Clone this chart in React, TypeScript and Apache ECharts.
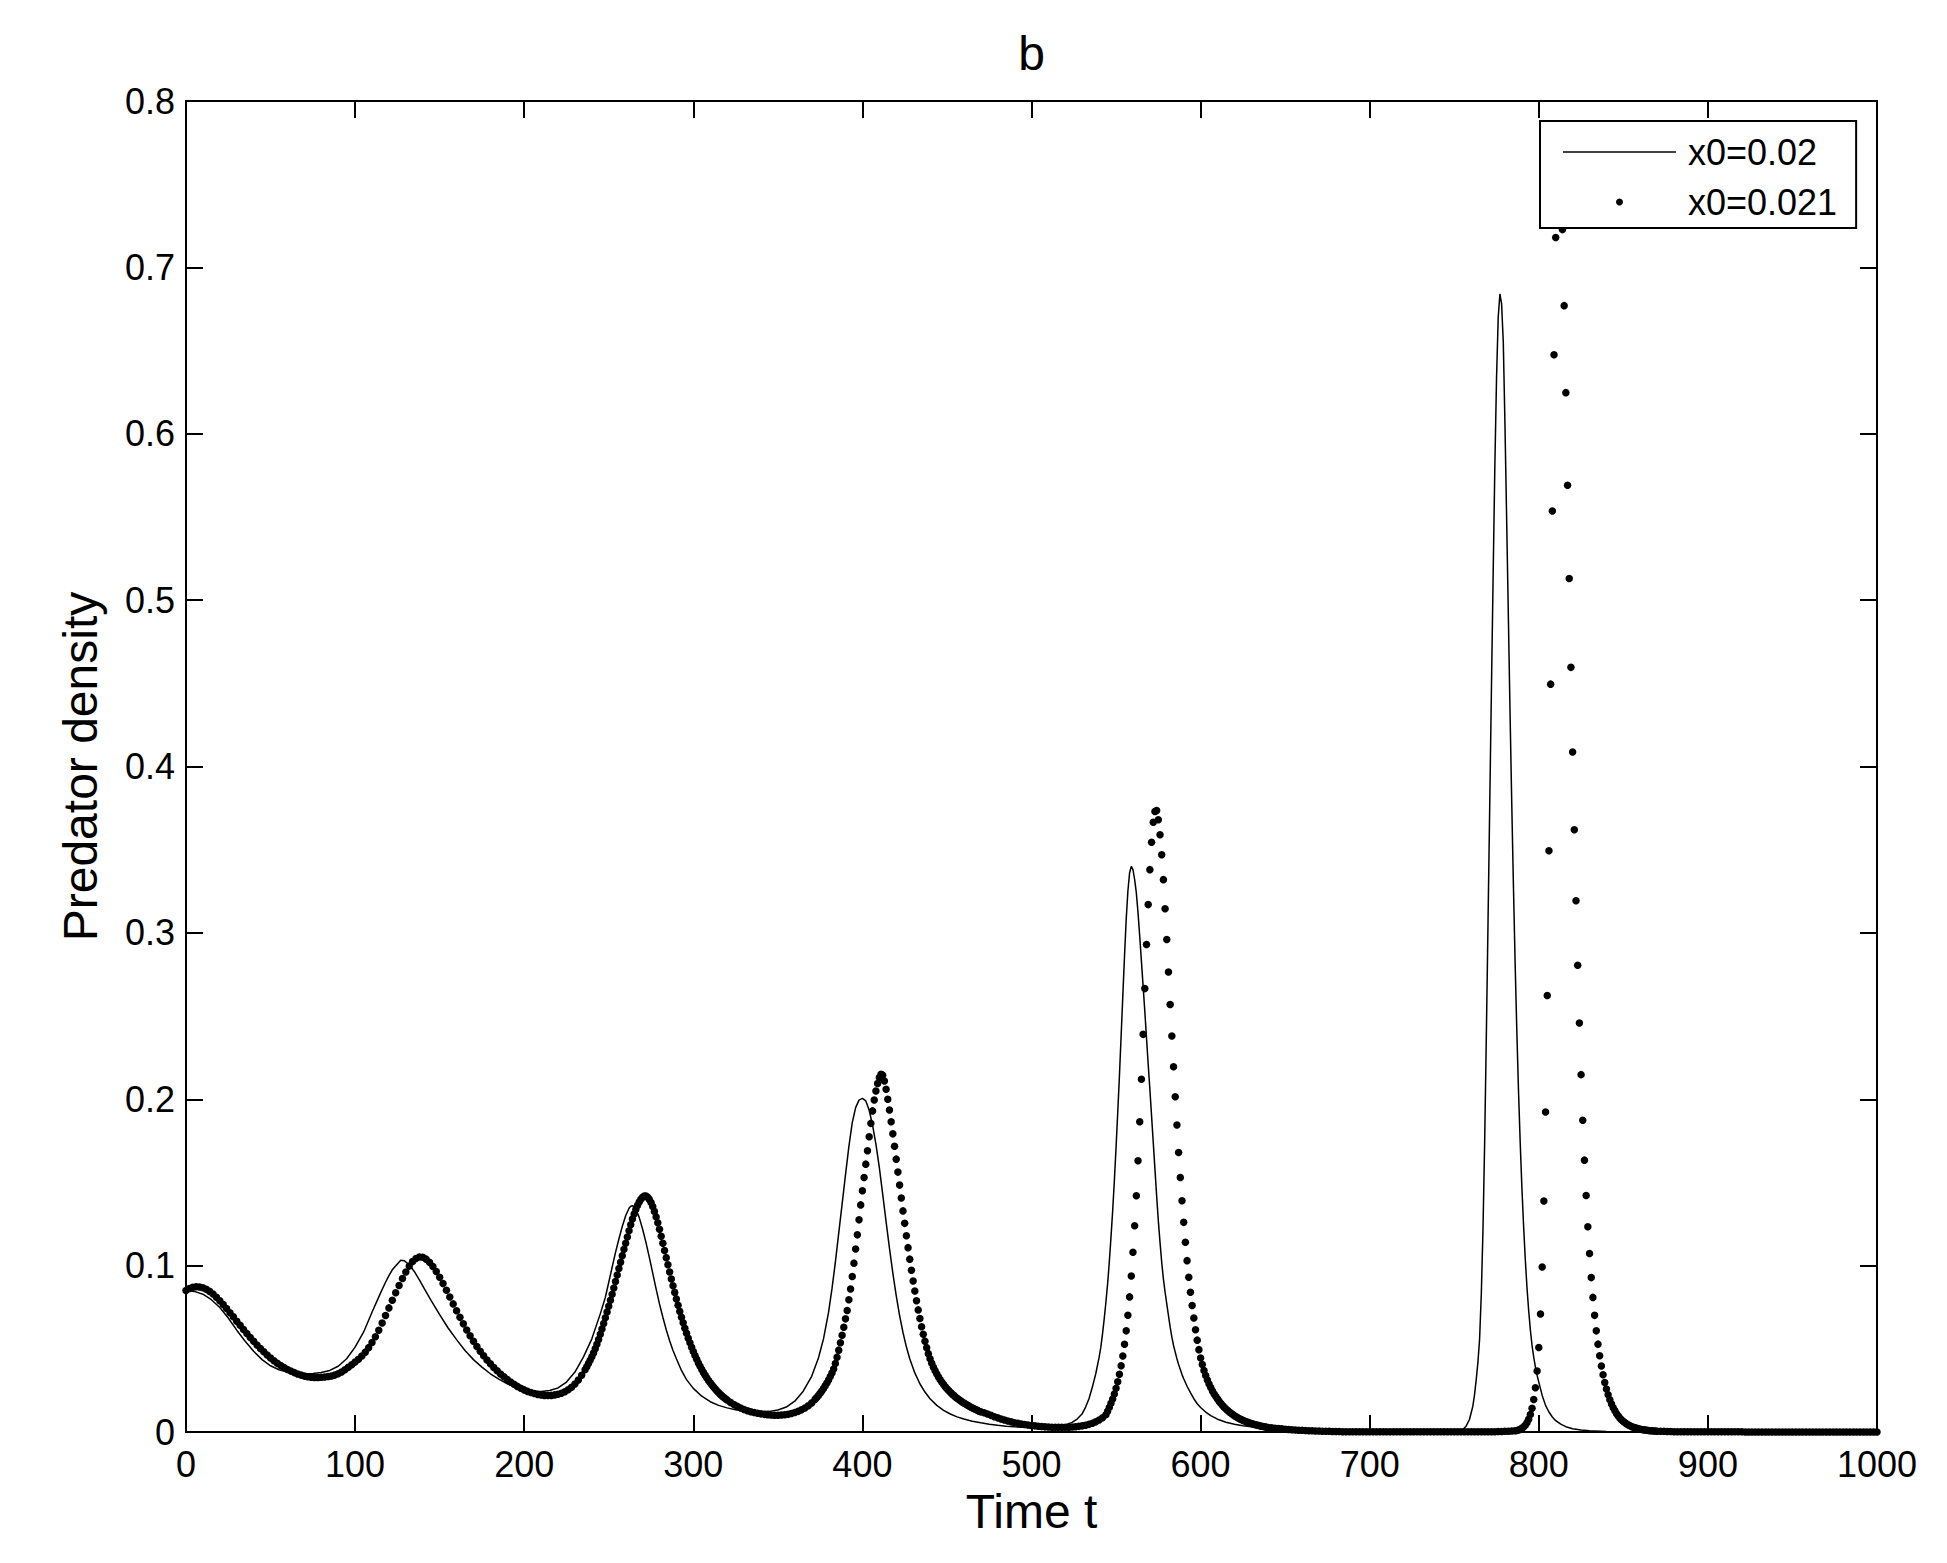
import React, { useEffect, useRef } from 'react';
import * as echarts from 'echarts';

const FONT = '"Liberation Sans", Arial, Helvetica, sans-serif';

const TITLE = 'b';
const X_NAME = 'Time t';
const Y_NAME = 'Predator density';
const SERIES_LINE_NAME = 'x0=0.02';
const SERIES_DOT_NAME = 'x0=0.021';

const X_MIN = 0;
const X_MAX = 1000;
const X_STEP = 100;
const Y_MIN = 0;
const Y_MAX = 0.8;
const Y_STEP = 0.1;

// Solid line (x0 = 0.02): time points and predator density
const LINE_T = [
  0, 5, 10, 15, 20, 25, 30, 35, 40, 45, 50, 55, 60, 65, 70, 75, 80, 85, 90, 95,
  100, 105, 110, 115, 118, 120, 122, 125, 127, 129, 132, 135, 138, 141, 145, 150, 155, 160, 165, 170,
  175, 180, 185, 190, 195, 200, 205, 210, 215, 220, 225, 230, 235, 240, 245, 248, 250, 252, 254, 256,
  258, 260, 262, 263, 264, 265, 266, 268, 270, 272, 274, 276, 278, 280, 282, 284, 286, 288, 290, 293,
  296, 300, 305, 310, 315, 320, 325, 330, 335, 340, 345, 350, 355, 360, 365, 370, 374, 377, 380, 382,
  384, 386, 388, 390, 392, 394, 396, 398, 400, 402, 404, 406, 408, 410, 412, 414, 416, 418, 420, 422,
  424, 426, 428, 431, 434, 437, 440, 444, 448, 452, 456, 460, 465, 470, 475, 480, 485, 490, 495, 500,
  505, 510, 515, 520, 524, 527, 530, 532, 534, 536, 538, 540, 541, 542, 543, 544, 545, 546, 547, 548,
  549, 550, 551, 552, 553, 554, 555, 556, 557, 558, 559, 560, 561, 562, 563, 564, 565, 566, 567, 568,
  569, 570, 571, 572, 573, 574, 575, 576, 577, 578, 579, 580, 581, 582, 583, 584, 585, 586, 587, 588,
  589, 590, 592, 594, 596, 598, 600, 603, 606, 610, 615, 620, 625, 630, 640, 650, 660, 670, 680, 700,
  720, 745, 750, 753, 755, 757, 759, 761, 762, 763, 764, 765, 766, 767, 768, 769, 770, 771, 772, 773,
  774, 775, 776, 777, 778, 779, 780, 781, 782, 783, 784, 785, 786, 787, 788, 789, 790, 791, 792, 793,
  794, 795, 796, 797, 798, 799, 800, 802, 804, 806, 808, 810, 813, 816, 820, 825, 830, 840, 850, 870,
  1000,
];
const LINE_V = [
  0.0850, 0.0845, 0.0828, 0.0795, 0.0748, 0.0685, 0.0612, 0.0545, 0.0485, 0.0435, 0.0398, 0.0374, 0.0360, 0.0352, 0.0350, 0.0352, 0.0358, 0.0370, 0.0395, 0.0440,
  0.0510, 0.0600, 0.0720, 0.0835, 0.0900, 0.0940, 0.0975, 0.1010, 0.1033, 0.1030, 0.1005, 0.0965, 0.0915, 0.0860, 0.0790, 0.0705, 0.0625, 0.0555, 0.0490, 0.0435,
  0.0390, 0.0350, 0.0318, 0.0290, 0.0268, 0.0253, 0.0245, 0.0244, 0.0250, 0.0265, 0.0300, 0.0360, 0.0450, 0.0560, 0.0710, 0.0810, 0.0900, 0.0990, 0.1080, 0.1160,
  0.1235, 0.1300, 0.1345, 0.1357, 0.1360, 0.1355, 0.1340, 0.1290, 0.1220, 0.1140, 0.1050, 0.0955, 0.0860, 0.0770, 0.0690, 0.0615, 0.0548, 0.0490, 0.0440, 0.0370,
  0.0315, 0.0262, 0.0215, 0.0182, 0.0160, 0.0145, 0.0134, 0.0126, 0.0122, 0.0121, 0.0124, 0.0132, 0.0150, 0.0185, 0.0245, 0.0335, 0.0445, 0.0560, 0.0720, 0.0860,
  0.1020, 0.1195, 0.1370, 0.1545, 0.1715, 0.1860, 0.1950, 0.1995, 0.2005, 0.1990, 0.1935, 0.1845, 0.1730, 0.1590, 0.1430, 0.1265, 0.1105, 0.0955, 0.0820, 0.0700,
  0.0598, 0.0512, 0.0440, 0.0355, 0.0290, 0.0240, 0.0200, 0.0160, 0.0130, 0.0108, 0.0091, 0.0078, 0.0065, 0.0055, 0.0047, 0.0040, 0.0035, 0.0031, 0.0028, 0.0026,
  0.0026, 0.0028, 0.0033, 0.0043, 0.0058, 0.0078, 0.0110, 0.0150, 0.0200, 0.0270, 0.0350, 0.0450, 0.0510, 0.0590, 0.0680, 0.0780, 0.0890, 0.1020, 0.1170, 0.1330,
  0.1510, 0.1710, 0.1920, 0.2140, 0.2380, 0.2620, 0.2860, 0.3080, 0.3250, 0.3360, 0.3400, 0.3380, 0.3320, 0.3240, 0.3120, 0.2980, 0.2830, 0.2680, 0.2530, 0.2370,
  0.2210, 0.2060, 0.1900, 0.1740, 0.1580, 0.1420, 0.1270, 0.1140, 0.1020, 0.0920, 0.0840, 0.0770, 0.0700, 0.0630, 0.0570, 0.0520, 0.0480, 0.0440, 0.0405, 0.0375,
  0.0345, 0.0320, 0.0275, 0.0237, 0.0200, 0.0170, 0.0147, 0.0120, 0.0098, 0.0077, 0.0059, 0.0047, 0.0038, 0.0031, 0.0021, 0.0014, 0.0009, 0.0006, 0.0004, 0.0002,
  0.0001, 0.0001, 0.0004, 0.0009, 0.0015, 0.0035, 0.0075, 0.0155, 0.0225, 0.0315, 0.0420, 0.0560, 0.0830, 0.1220, 0.1750, 0.2400, 0.3080, 0.3780, 0.4470, 0.5150,
  0.5800, 0.6330, 0.6700, 0.6840, 0.6780, 0.6550, 0.6050, 0.5480, 0.4900, 0.4320, 0.3780, 0.3280, 0.2820, 0.2410, 0.2050, 0.1740, 0.1470, 0.1240, 0.1040, 0.0870,
  0.0730, 0.0615, 0.0520, 0.0450, 0.0390, 0.0340, 0.0300, 0.0220, 0.0160, 0.0120, 0.0090, 0.0068, 0.0047, 0.0032, 0.0020, 0.0012, 0.0007, 0.0003, 0.0001, 0.0000,
  0.0000,
];

// Dotted series (x0 = 0.021): sampled runs, each with its own start time and time step
const DOT_A_START = 0;
const DOT_A_STEP = 2;
const DOT_A = [
  0.0850, 0.0862, 0.0870, 0.0873, 0.0872, 0.0867, 0.0858, 0.0845, 0.0829, 0.0810,
  0.0789, 0.0766, 0.0742, 0.0717, 0.0692, 0.0666, 0.0641, 0.0616, 0.0592, 0.0568,
  0.0545, 0.0523, 0.0502, 0.0482, 0.0463, 0.0445, 0.0428, 0.0413, 0.0399, 0.0387,
  0.0376, 0.0366, 0.0357, 0.0349, 0.0342, 0.0336, 0.0332, 0.0329, 0.0328, 0.0328,
  0.0329, 0.0331, 0.0334, 0.0337, 0.0342, 0.0350, 0.0361, 0.0374, 0.0389, 0.0404,
  0.0420, 0.0437, 0.0457, 0.0480, 0.0507, 0.0538, 0.0573, 0.0612, 0.0655, 0.0700,
  0.0746, 0.0792, 0.0837, 0.0881, 0.0923, 0.0962, 0.0997, 0.1025, 0.1043, 0.1052,
  0.1050, 0.1039, 0.1020, 0.0995, 0.0965, 0.0930, 0.0892, 0.0852, 0.0811, 0.0770,
  0.0729, 0.0689, 0.0650, 0.0613, 0.0578, 0.0545, 0.0514, 0.0485, 0.0458, 0.0433,
  0.0410, 0.0388, 0.0368, 0.0349, 0.0332, 0.0316, 0.0301, 0.0287, 0.0274, 0.0263,
  0.0253, 0.0244, 0.0237, 0.0231, 0.0226, 0.0222, 0.0220, 0.0219, 0.0220, 0.0223,
  0.0227, 0.0233, 0.0242, 0.0254, 0.0269, 0.0288, 0.0312, 0.0341, 0.0374,
];
const DOT_B_START = 237;
const DOT_B_STEP = 1;
const DOT_B = [
  0.0392, 0.0411, 0.0431, 0.0452, 0.0475, 0.0500, 0.0527, 0.0556, 0.0587, 0.0619,
  0.0652, 0.0687, 0.0721, 0.0756, 0.0792, 0.0828, 0.0866, 0.0904, 0.0943, 0.0982,
  0.1021, 0.1060, 0.1098, 0.1135, 0.1172, 0.1210, 0.1246, 0.1280, 0.1311, 0.1338,
  0.1362, 0.1382, 0.1399, 0.1411, 0.1418, 0.1418, 0.1411, 0.1398, 0.1379, 0.1355,
  0.1326, 0.1293, 0.1257, 0.1218, 0.1177, 0.1134, 0.1091, 0.1048, 0.1005, 0.0962,
  0.0920, 0.0879, 0.0839, 0.0800, 0.0762, 0.0725, 0.0690, 0.0656, 0.0624, 0.0593,
  0.0564, 0.0536, 0.0509, 0.0484, 0.0460, 0.0437, 0.0415, 0.0395, 0.0376, 0.0358,
  0.0341, 0.0325, 0.0310, 0.0296, 0.0283, 0.0270, 0.0258, 0.0247, 0.0236, 0.0226,
  0.0217, 0.0208, 0.0200, 0.0192,
];
const DOT_C_START = 322;
const DOT_C_STEP = 2;
const DOT_C = [
  0.0178, 0.0165, 0.0154, 0.0144, 0.0135, 0.0128, 0.0122, 0.0117, 0.0113, 0.0109,
  0.0106, 0.0104, 0.0102, 0.0101, 0.0101, 0.0102, 0.0104, 0.0107, 0.0111, 0.0117,
  0.0124, 0.0133, 0.0144, 0.0158, 0.0175, 0.0196,
];
const DOT_D_START = 373;
const DOT_D_STEP = 1;
const DOT_D = [
  0.0208, 0.0220, 0.0233, 0.0247, 0.0262, 0.0278, 0.0295, 0.0313, 0.0333, 0.0355,
  0.0379, 0.0412, 0.0450, 0.0492, 0.0536, 0.0582, 0.0630, 0.0680, 0.0730, 0.0795,
  0.0860, 0.0935, 0.1015, 0.1100, 0.1185, 0.1275, 0.1365, 0.1450, 0.1530, 0.1610,
  0.1690, 0.1775, 0.1855, 0.1930, 0.1995, 0.2050, 0.2095, 0.2130, 0.2150, 0.2145,
  0.2110, 0.2060, 0.2000, 0.1935, 0.1865, 0.1792, 0.1717, 0.1640, 0.1562, 0.1484,
  0.1406, 0.1329, 0.1254, 0.1180, 0.1108, 0.1039, 0.0972, 0.0908, 0.0847, 0.0789,
  0.0734, 0.0682, 0.0633, 0.0588, 0.0546, 0.0507, 0.0471, 0.0440, 0.0413, 0.0389,
  0.0368, 0.0348, 0.0330, 0.0314, 0.0299, 0.0285, 0.0272, 0.0260, 0.0249, 0.0239,
  0.0229, 0.0220, 0.0211, 0.0203, 0.0195, 0.0188, 0.0181, 0.0174, 0.0168, 0.0162,
  0.0156, 0.0150, 0.0145, 0.0140, 0.0135, 0.0130, 0.0125, 0.0121,
];
const DOT_E_START = 472;
const DOT_E_STEP = 2;
const DOT_E = [
  0.0116, 0.0108, 0.0100, 0.0092, 0.0085, 0.0078, 0.0072, 0.0066, 0.0061, 0.0056,
  0.0052, 0.0048, 0.0045, 0.0042, 0.0039, 0.0037, 0.0035, 0.0033, 0.0031, 0.0030,
  0.0029, 0.0028, 0.0028, 0.0028, 0.0028, 0.0029, 0.0030, 0.0032, 0.0034, 0.0037,
  0.0041, 0.0046, 0.0053, 0.0061, 0.0072, 0.0086, 0.0104,
];
const DOT_F_START = 545;
const DOT_F_STEP = 1;
const DOT_F = [
  0.0125, 0.0148, 0.0173, 0.0199, 0.0229, 0.0263, 0.0302, 0.0347, 0.0398, 0.0457,
  0.0527, 0.0608, 0.0702, 0.0812, 0.0938, 0.1080, 0.1240, 0.1420, 0.1630, 0.1865,
  0.2120, 0.2390, 0.2665, 0.2930, 0.3170, 0.3380, 0.3545, 0.3665, 0.3730, 0.3735,
  0.3680, 0.3590, 0.3470, 0.3320, 0.3145, 0.2960, 0.2765, 0.2570, 0.2380, 0.2195,
  0.2015, 0.1845, 0.1680, 0.1530, 0.1390, 0.1260, 0.1140, 0.1030, 0.0930, 0.0840,
  0.0760, 0.0685, 0.0615, 0.0552, 0.0495, 0.0445, 0.0405, 0.0370, 0.0340, 0.0313,
  0.0289, 0.0267, 0.0247, 0.0229, 0.0213, 0.0198, 0.0184, 0.0171, 0.0159, 0.0148,
  0.0138, 0.0129, 0.0120, 0.0112, 0.0105, 0.0098, 0.0092, 0.0086, 0.0080, 0.0075,
  0.0070, 0.0066, 0.0062, 0.0058, 0.0054, 0.0051, 0.0048, 0.0045, 0.0042, 0.0040,
  0.0037, 0.0035, 0.0033, 0.0031, 0.0029, 0.0027,
];
const DOT_G_START = 642;
const DOT_G_STEP = 2;
const DOT_G = [
  0.0025, 0.0023, 0.0021, 0.0019, 0.0017, 0.0015, 0.0014, 0.0012, 0.0011, 0.0010,
  0.0009, 0.0008, 0.0007, 0.0006, 0.0006, 0.0005, 0.0004, 0.0004, 0.0003, 0.0003,
  0.0003, 0.0002, 0.0002, 0.0002, 0.0002, 0.0002, 0.0001, 0.0001, 0.0001, 0.0001,
  0.0001, 0.0001, 0.0001, 0.0001, 0.0001, 0.0001, 0.0001, 0.0001, 0.0001, 0.0001,
  0.0001, 0.0001, 0.0001, 0.0001, 0.0001, 0.0001, 0.0001, 0.0001, 0.0001, 0.0001,
  0.0001, 0.0001, 0.0001, 0.0001, 0.0001, 0.0001, 0.0001, 0.0001, 0.0001, 0.0001,
  0.0001, 0.0001, 0.0001, 0.0001, 0.0002, 0.0002, 0.0002, 0.0003, 0.0003, 0.0004,
  0.0005, 0.0006, 0.0008,
];
const DOT_H_START = 787;
const DOT_H_STEP = 1;
const DOT_H = [
  0.0009, 0.0012, 0.0016, 0.0022, 0.0030, 0.0041, 0.0056, 0.0077, 0.0105, 0.0143,
  0.0195, 0.0266, 0.0366, 0.0508, 0.0709, 0.0992, 0.1388, 0.1923, 0.2624, 0.3494,
  0.4495, 0.5536, 0.6475, 0.7180, 0.7550, 0.7680, 0.7560, 0.7227, 0.6770, 0.6247,
  0.5690, 0.5130, 0.4596, 0.4087, 0.3620, 0.3193, 0.2805, 0.2458, 0.2148, 0.1874,
  0.1634, 0.1422, 0.1234, 0.1073, 0.0928, 0.0809, 0.0701, 0.0608, 0.0528, 0.0458,
  0.0397, 0.0344, 0.0298, 0.0258, 0.0224, 0.0194, 0.0168, 0.0146, 0.0127, 0.0110,
  0.0096, 0.0083, 0.0072, 0.0063, 0.0055, 0.0048, 0.0042, 0.0037, 0.0032, 0.0028,
  0.0025, 0.0022, 0.0019, 0.0017, 0.0015, 0.0013, 0.0012, 0.0010, 0.0009, 0.0008,
  0.0007, 0.0006, 0.0006, 0.0005,
];
const DOT_I_START = 872;
const DOT_I_STEP = 2;
const DOT_I = [
  0.0004, 0.0004, 0.0003, 0.0003, 0.0002, 0.0002, 0.0002, 0.0002, 0.0001, 0.0001,
  0.0001, 0.0001, 0.0001, 0.0001, 0.0001, 0.0001, 0.0001, 0.0001, 0.0001, 0.0001,
  0.0001, 0.0001, 0.0001, 0.0001, 0.0001, 0, 0, 0, 0, 0,
  0, 0, 0, 0, 0, 0, 0, 0, 0, 0,
  0, 0, 0, 0, 0, 0, 0, 0, 0, 0,
  0, 0, 0, 0, 0, 0, 0, 0, 0, 0,
  0, 0, 0, 0, 0,
];

const DOT_RUNS = [
  { start: DOT_A_START, step: DOT_A_STEP, values: DOT_A },
  { start: DOT_B_START, step: DOT_B_STEP, values: DOT_B },
  { start: DOT_C_START, step: DOT_C_STEP, values: DOT_C },
  { start: DOT_D_START, step: DOT_D_STEP, values: DOT_D },
  { start: DOT_E_START, step: DOT_E_STEP, values: DOT_E },
  { start: DOT_F_START, step: DOT_F_STEP, values: DOT_F },
  { start: DOT_G_START, step: DOT_G_STEP, values: DOT_G },
  { start: DOT_H_START, step: DOT_H_STEP, values: DOT_H },
  { start: DOT_I_START, step: DOT_I_STEP, values: DOT_I },
];

function buildLine(): number[][] {
  return LINE_T.map((t, i) => [t, LINE_V[i]]);
}

function buildDots(): number[][] {
  const pts: number[][] = [];
  DOT_RUNS.forEach((run) => {
    run.values.forEach((v, i) => pts.push([run.start + i * run.step, v]));
  });
  return pts;
}

const AXIS_LINE = { show: true, onZero: false, lineStyle: { color: '#000', width: 2 } };
const AXIS_TICK = { show: true, inside: true, length: 17, lineStyle: { color: '#000', width: 2 } };
const LEGEND_LINE_ICON = 'path://M0,0H113V1.5H0Z';

export default function App() {
  const ref = useRef<HTMLDivElement>(null);

  useEffect(() => {
    if (!ref.current) return;
    const chart = echarts.init(ref.current, undefined, { renderer: 'svg' });
    const yFmt = (v: number) => (v === 0 ? '0' : v.toFixed(1));
    const xFmt = (v: number) => String(Math.round(v));
    const option: any = {
      animation: false,
      backgroundColor: '#ffffff',
      textStyle: { fontFamily: FONT },
      grid: { left: 186, top: 101, width: 1691, height: 1331, containLabel: false },
      graphic: [
        {
          type: 'text',
          x: 1031.5,
          y: 53,
          style: {
            text: TITLE,
            fontSize: 48,
            fontFamily: FONT,
            fill: '#000',
            align: 'center',
            verticalAlign: 'middle',
          },
        },
      ],
      legend: {
        orient: 'vertical',
        left: 1540,
        top: 121,
        padding: [13, 19, 8, 23],
        backgroundColor: '#ffffff',
        borderColor: '#000',
        borderWidth: 2,
        borderRadius: 0,
        itemWidth: 113,
        itemHeight: 7,
        itemGap: 14,
        symbolKeepAspect: true,
        selectedMode: false,
        textStyle: { fontSize: 36, color: '#000', fontFamily: FONT, padding: [0, 0, 0, 7] },
        data: [
          { name: SERIES_LINE_NAME, icon: LEGEND_LINE_ICON, itemStyle: { color: '#000' } },
          { name: SERIES_DOT_NAME, icon: 'circle', itemStyle: { color: '#000' } },
        ],
        z: 10,
      },
      xAxis: [
        {
          type: 'value',
          position: 'bottom',
          min: X_MIN,
          max: X_MAX,
          interval: X_STEP,
          name: X_NAME,
          nameLocation: 'middle',
          nameGap: 55,
          nameTextStyle: { fontSize: 48, color: '#000', fontFamily: FONT },
          axisLine: AXIS_LINE,
          axisTick: AXIS_TICK,
          axisLabel: { fontSize: 36, color: '#000', margin: 14, fontFamily: FONT, formatter: xFmt },
          splitLine: { show: false },
        },
        {
          type: 'value',
          position: 'top',
          min: X_MIN,
          max: X_MAX,
          interval: X_STEP,
          axisLine: AXIS_LINE,
          axisTick: AXIS_TICK,
          axisLabel: { show: false },
          splitLine: { show: false },
        },
      ],
      yAxis: [
        {
          type: 'value',
          position: 'left',
          min: Y_MIN,
          max: Y_MAX,
          interval: Y_STEP,
          name: Y_NAME,
          nameLocation: 'middle',
          nameRotate: 90,
          nameGap: 82,
          nameTextStyle: { fontSize: 48, color: '#000', fontFamily: FONT },
          axisLine: AXIS_LINE,
          axisTick: AXIS_TICK,
          axisLabel: { fontSize: 36, color: '#000', margin: 11, fontFamily: FONT, formatter: yFmt },
          splitLine: { show: false },
        },
        {
          type: 'value',
          position: 'right',
          min: Y_MIN,
          max: Y_MAX,
          interval: Y_STEP,
          axisLine: AXIS_LINE,
          axisTick: AXIS_TICK,
          axisLabel: { show: false },
          splitLine: { show: false },
        },
      ],
      series: [
        {
          name: SERIES_LINE_NAME,
          type: 'line',
          xAxisIndex: 0,
          yAxisIndex: 0,
          data: buildLine(),
          symbol: 'none',
          showSymbol: false,
          smooth: false,
          lineStyle: { color: '#000', width: 1.5 },
          itemStyle: { color: '#000' },
          z: 2,
        },
        {
          name: SERIES_DOT_NAME,
          type: 'scatter',
          xAxisIndex: 0,
          yAxisIndex: 0,
          data: buildDots(),
          symbol: 'circle',
          symbolSize: 7.5,
          itemStyle: { color: '#000', opacity: 1 },
          clip: false,
          z: 3,
        },
      ],
    };
    chart.setOption(option);
    return () => chart.dispose();
  }, []);

  return (
    <div
      ref={ref}
      style={{ position: 'absolute', left: 0, top: 0, width: 1947, height: 1563, background: '#fff' }}
    />
  );
}
